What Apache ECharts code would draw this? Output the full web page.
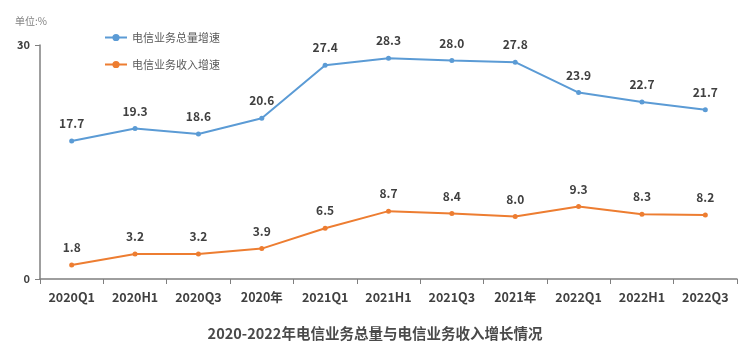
<!DOCTYPE html>
<html><head><meta charset="utf-8">
<script src="https://cdn.jsdelivr.net/npm/echarts@6/dist/echarts.min.js"></script>
<style>html,body{margin:0;padding:0;background:#fff}#c{width:750px;height:347px}</style>
</head><body><div id="c"></div>
<script>
const categories = ['2020Q1','2020H1','2020Q3','2020年','2021Q1','2021H1','2021Q3','2021年','2022Q1','2022H1','2022Q3'];
const totalGrowth = [17.7,19.3,18.6,20.6,27.4,28.3,28.0,27.8,23.9,22.7,21.7];
const revenueGrowth = [1.8,3.2,3.2,3.9,6.5,8.7,8.4,8.0,9.3,8.3,8.2];
const seriesNames = ['电信业务总量增速','电信业务收入增速'];
const chartTitle = '2020-2022年电信业务总量与电信业务收入增长情况';
const unitText = '单位:%';

const font = '"Noto Sans CJK SC", "Open Sans", sans-serif';
const chart = echarts.init(document.getElementById('c'));
const lbl = {show:true, position:'top', distance:9, color:'#404040', fontWeight:'bold', fontSize:12, fontFamily:font,
  formatter: p => p.value.toFixed(1)};
chart.setOption({
  animation:false,
  textStyle:{fontFamily:font},
  title:[
    {text:chartTitle, left:'center', top:321, textStyle:{fontSize:14.5, fontWeight:'bold', color:'#4a4a4a', fontFamily:font}},
    {text:unitText, left:10, top:11, textStyle:{fontSize:10, fontWeight:'normal', color:'#7f7f7f', fontFamily:font}}
  ],
  legend:{orient:'vertical', left:99, top:27, itemGap:16, itemWidth:22, itemHeight:9,
    textStyle:{fontSize:11, color:'#595959', fontFamily:font},
    data:seriesNames},
  grid:{left:40, right:13, top:45, bottom:68},
  xAxis:{type:'category', data:categories, boundaryGap:true,
    axisLine:{lineStyle:{color:'#7f7f7f', width:1.5}},
    axisTick:{show:true, lineStyle:{color:'#7f7f7f'}, length:5},
    axisLabel:{color:'#404040', fontWeight:'bold', fontSize:12.5, margin:12, fontFamily:font}},
  yAxis:{type:'value', min:0, max:30, interval:30,
    splitLine:{show:false},
    axisLine:{show:true, lineStyle:{color:'#7f7f7f', width:1.5}},
    axisTick:{show:true, lineStyle:{color:'#7f7f7f'}, length:5},
    axisLabel:{color:'#404040', fontWeight:'bold', fontSize:11, margin:10, fontFamily:font}},
  series:[
    {name:seriesNames[0], type:'line', data:totalGrowth, symbol:'circle', symbolSize:5,
      itemStyle:{color:'#5B9BD5'}, lineStyle:{width:2, color:'#5B9BD5'}, label:lbl},
    {name:seriesNames[1], type:'line', data:revenueGrowth, symbol:'circle', symbolSize:5,
      itemStyle:{color:'#ED7D31'}, lineStyle:{width:2, color:'#ED7D31'}, label:lbl}
  ]
});
</script></body></html>
